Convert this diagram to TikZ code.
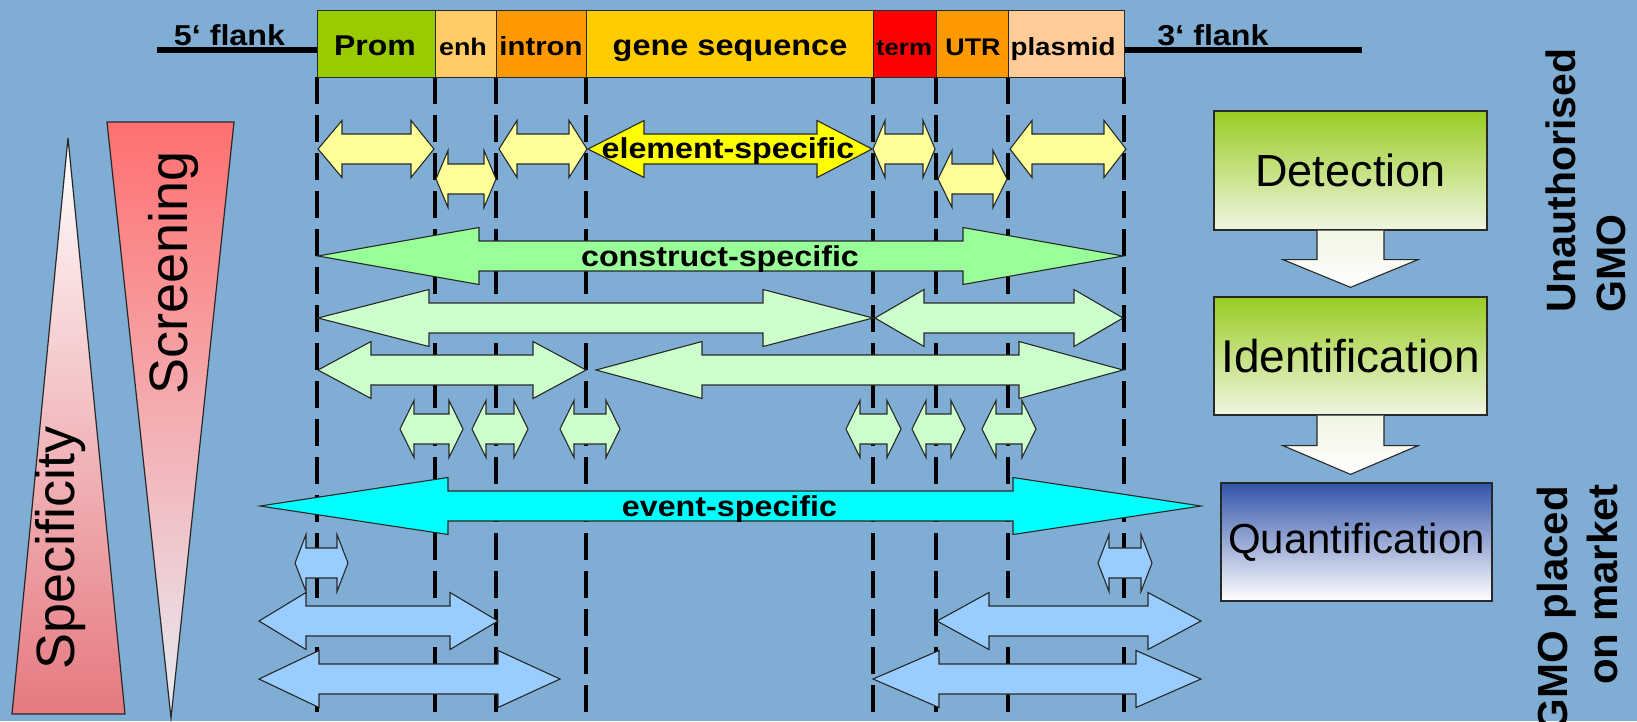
\documentclass[tikz,border=0pt]{standalone}
\usepackage{fontspec}
\setmainfont{Liberation Sans}
\newfontfamily\lblfont[FakeStretch=1.12]{Liberation Sans}
\usetikzlibrary{calc}

\definecolor{bg}{RGB}{127,173,211}
\definecolor{promc}{RGB}{153,204,0}
\definecolor{enhc}{RGB}{255,204,102}
\definecolor{intrc}{RGB}{255,153,0}
\definecolor{genec}{RGB}{255,204,0}
\definecolor{termc}{RGB}{255,0,0}
\definecolor{utrc}{RGB}{255,153,0}
\definecolor{plasc}{RGB}{255,204,153}
\definecolor{ylight}{RGB}{255,255,153}
\definecolor{yel}{RGB}{255,255,0}
\definecolor{cgreen}{RGB}{153,255,153}
\definecolor{pgreen}{RGB}{204,255,204}
\definecolor{cyanc}{RGB}{0,255,255}
\definecolor{bluec}{RGB}{153,204,255}
\definecolor{outl}{RGB}{40,40,40}
\definecolor{boxg}{RGB}{153,204,34}
\definecolor{boxgm}{RGB}{196,224,140}
\definecolor{boxgw}{RGB}{240,246,226}
\definecolor{boxb}{RGB}{51,85,170}
\definecolor{boxbm}{RGB}{190,196,228}
\definecolor{trione}{RGB}{229,121,128}
\definecolor{tritwo}{RGB}{255,112,112}
\definecolor{tritwow}{RGB}{232,236,244}

\newcommand{\fsz}[1]{\fontsize{#1}{#1}\selectfont}
\newcommand{\dblarrow}[6]{%
  \draw[#1] (#2,#4) -- ({#2+#5},{#4-28.5}) -- ({#2+#5},{#4-15}) -- ({#3-#6},{#4-15})
    -- ({#3-#6},{#4-28.5}) -- (#3,#4) -- ({#3-#6},{#4+28.5}) -- ({#3-#6},{#4+15})
    -- ({#2+#5},{#4+15}) -- ({#2+#5},{#4+28.5}) -- cycle;}

\tikzset{
  seg/.style={draw=outl, line width=1.3pt, minimum height=67pt, inner sep=0pt, anchor=north west},
  seglbl/.style={anchor=base, inner sep=0pt, font=\lblfont\bfseries},
  dashline/.style={line width=3.3pt, dash pattern=on 27pt off 11pt},
  flank/.style={line width=5.5pt},
  arrbase/.style={draw=outl, line width=1.1pt, line join=miter},
  arrY/.style={arrbase, fill=ylight},
  arrE/.style={arrbase, fill=yel},
  arrC/.style={arrbase, fill=cgreen},
  arrP/.style={arrbase, fill=pgreen},
  arrV/.style={arrbase, fill=cyanc},
  arrB/.style={arrbase, fill=bluec},
  albl/.style={anchor=base, inner sep=0pt, font=\lblfont\bfseries\fsz{28.8}},
  gbox/.style={draw=outl, line width=1.3pt, inner sep=0pt, top color=boxg, middle color=boxgm, bottom color=boxgw},
  qbox/.style={draw=outl, line width=1.3pt, inner sep=0pt, top color=boxb, middle color=boxbm, bottom color=white},
  darr/.style={draw=outl, line width=1.1pt, top color=boxgw, bottom color=white},
  sidelbl/.style={rotate=90, inner sep=0pt, font=\bfseries\fsz{41}},
}

\begin{document}
\begin{tikzpicture}[x=1pt,y=-1pt]
\useasboundingbox (0,0) rectangle (1637,721);
\fill[bg] (0,0) rectangle (1637,721);

% dashed guide lines
\foreach \xx in {317,435,496,586,873,936,1008,1124}
  \draw[dashline] (\xx,77) -- (\xx,721);

% flanks
\draw[flank] (157,50) -- (317,50);
\draw[flank] (1124,50) -- (1362,50);
\node[seglbl, font=\lblfont\bfseries\fsz{28.8}] (f5) at (229.5,45) {5‘ flank};
\node[seglbl, font=\lblfont\bfseries\fsz{28.8}] (f3) at (1213,45) {3‘ flank};

% construct bar
\node[seg, fill=promc, minimum width=118pt] (sprom) at (317,10) {};
\node[seg, fill=enhc, minimum width=61pt] (senh) at (435,10) {};
\node[seg, fill=intrc, minimum width=90pt] (sintr) at (496,10) {};
\node[seg, fill=genec, minimum width=287pt] (sgene) at (586,10) {};
\node[seg, fill=termc, minimum width=63pt] (sterm) at (873,10) {};
\node[seg, fill=utrc, minimum width=72pt] (sutr) at (936,10) {};
\node[seg, fill=plasc, minimum width=116pt] (splas) at (1008,10) {};

\node[seglbl, font=\lblfont\bfseries\fsz{28.6}] (tprom) at (375,55) {Prom};
\node[seglbl, font=\lblfont\bfseries\fsz{24}] (tenh) at (463,55) {enh};
\node[seglbl, font=\lblfont\bfseries\fsz{26.2}] (tintr) at (541,55) {intron};
\node[seglbl, font=\lblfont\bfseries\fsz{29}] (tgene) at (730,55) {gene sequence};
\node[seglbl, font=\lblfont\bfseries\fsz{23}] (tterm) at (904,55) {term};
\node[seglbl, font=\lblfont\bfseries\fsz{24}] (tutr) at (973,55) {UTR};
\node[seglbl, font=\lblfont\bfseries\fsz{24.8}] (tplas) at (1063,55) {plasmid};

% element-specific row
\dblarrow{arrY}{318}{434}{149}{24}{23}
\dblarrow{arrY}{436}{496}{179}{12}{12}
\dblarrow{arrY}{499}{587}{149}{18}{18}
\dblarrow{arrE}{588}{872}{149}{56}{55}
\dblarrow{arrY}{873}{935}{149}{12}{12}
\dblarrow{arrY}{938}{1007}{179}{14}{14}
\dblarrow{arrY}{1010}{1126}{149}{22}{22}
\node[albl] (tel) at (728,158) {element-specific};

% construct-specific
\dblarrow{arrC}{318}{1123}{256}{161}{160}
\node[albl] (tcs) at (720,266) {construct-specific};

\dblarrow{arrP}{318}{873}{318}{111}{110}
\dblarrow{arrP}{875}{1123}{318}{49}{49}
\dblarrow{arrP}{318}{586}{370}{53}{53}
\dblarrow{arrP}{596}{1123}{370}{106}{104}
\dblarrow{arrP}{400}{463}{429}{14}{14}
\dblarrow{arrP}{472}{528}{429}{14}{14}
\dblarrow{arrP}{560}{620}{429}{14}{14}
\dblarrow{arrP}{846}{901}{429}{14}{14}
\dblarrow{arrP}{912}{965}{429}{14}{14}
\dblarrow{arrP}{982}{1036}{429}{14}{14}

% event-specific
\dblarrow{arrV}{260}{1201}{506}{188}{188}
\node[albl] (tev) at (729.5,516) {event-specific};

\dblarrow{arrB}{295}{348}{563}{11}{11}
\dblarrow{arrB}{1098}{1152}{563}{11}{11}
\dblarrow{arrB}{259}{498}{621}{47}{48}
\dblarrow{arrB}{937}{1201}{621}{52}{53}
\dblarrow{arrB}{259}{560}{679}{60}{62}
\dblarrow{arrB}{873}{1201}{679}{66}{65}

% left triangles
\shadedraw[top color=white, bottom color=trione, draw=outl, line width=1.2pt]
  (68,138) -- (125,714) -- (12,714) -- cycle;
\shadedraw[top color=tritwo, bottom color=tritwow, draw=outl, line width=1.2pt]
  (107,122) -- (234,122) -- (171,718) -- cycle;
\node[rotate=90, inner sep=0pt, font=\fsz{54}] (tspec) at (61,548) {Specificity};
\node[rotate=90, inner sep=0pt, font=\fsz{54}] (tscr) at (173.5,273) {Screening};

% right boxes
\node[gbox, minimum width=273pt, minimum height=119pt, font=\fsz{45}] (det) at (1350.5,170.5) {Detection};
\node[gbox, minimum width=273pt, minimum height=118pt, font=\fsz{46}] (idf) at (1350.5,356) {Identification};
\node[qbox, minimum width=271pt, minimum height=118pt, font=\fsz{42}] (qnt) at (1356.5,542) {Quantification};

\shadedraw[darr] ($(det.south)+(-33.5,0)$) -- ++(0,29) -- ++(-34,0)
  -- ($(idf.north)+(0,-9)$) -- ($(det.south)+(67.5,29)$) -- ++(-34,0)
  -- ($(det.south)+(33.5,0)$);
\shadedraw[darr] ($(idf.south)+(-33.5,0)$) -- ++(0,30) -- ++(-34,0)
  -- ($(idf.south |- qnt.north)+(0,-8)$) -- ($(idf.south)+(67.5,30)$) -- ++(-34,0)
  -- ($(idf.south)+(33.5,0)$);

% side labels
\node[sidelbl, anchor=base west] (tun) at (1575,313) {Unauthorised};
\node[sidelbl, anchor=base west] (tgmo) at (1625,313) {GMO};
\node[sidelbl, anchor=base east, font=\bfseries\fsz{42}] (tgp) at (1567,486) {GMO placed};
\node[sidelbl, anchor=base east, font=\bfseries\fsz{42}] (tom) at (1617,484) {on market};
\end{tikzpicture}
\end{document}
